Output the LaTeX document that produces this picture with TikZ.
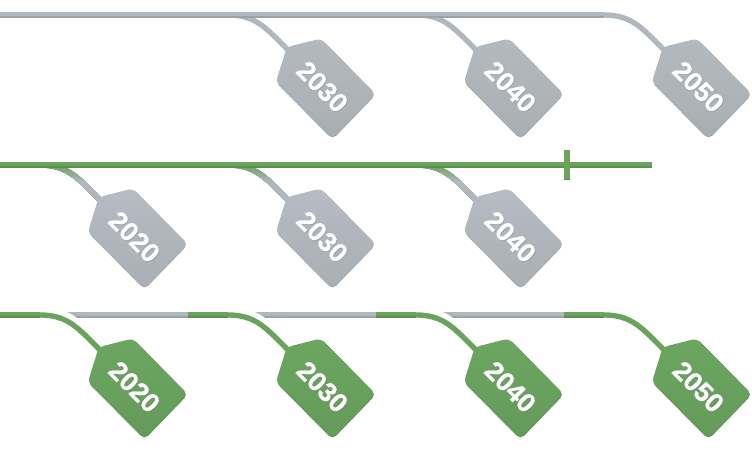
\documentclass[tikz,border=0pt]{standalone}
\usepackage{fontspec}
\usetikzlibrary{calc}
\setmainfont{Liberation Sans}
\newfontfamily\tagfont[BoldFeatures={FakeBold=0.8}]{Liberation Sans}
\definecolor{grayA}{HTML}{B6BBC5}
\definecolor{grayB}{HTML}{AAAFB3}
\definecolor{grayC}{HTML}{B3B9BE}
\definecolor{grayD}{HTML}{A9AFB1}
\definecolor{grayLine}{HTML}{B0B7BE}
\definecolor{grayEdge}{HTML}{9CA2A8}
\definecolor{greenA}{HTML}{6CA660}
\definecolor{greenB}{HTML}{649A5A}
\definecolor{greenLine}{HTML}{6AA35C}
\definecolor{greenEdge}{HTML}{5C8F51}
\tikzset{
  x=0.75pt,y=-0.75pt,
  tagtext/.style={font=\tagfont\bfseries\fontsize{20pt}{20pt}\selectfont,text=white,rotate=-45,inner sep=0pt},
  tagshadow/.style={font=\tagfont\bfseries\fontsize{20pt}{20pt}\selectfont,text=black!45,opacity=.5,rotate=-45,inner sep=0pt},
  halo/.style={draw=white,line width=5.5pt,line cap=butt},
  widehalo/.style={draw=white,line width=12pt,line cap=butt},
  mainline/.style={line width=4.2pt,line cap=butt},
  edgeline/.style={line width=1.2pt,line cap=butt},
  stringline/.style={line width=4pt,line cap=butt},
}
% \placetag{name}{dx}{dy}: the anchor points of one tag and its string
\newcommand{\placetag}[3]{%
  \coordinate (#1-s) at (40+#2,315+#3);
  \coordinate (#1-a) at (68+#2,315+#3);
  \coordinate (#1-b) at (78+#2,328+#3);
  \coordinate (#1-e) at (101+#2,351+#3);
}
\newcommand{\stringpath}[1]{(#1-s) .. controls (#1-a) and (#1-b) .. (#1-e)}
% \drawtag{name}{dx}{dy}{label}{top}{bottom}{edge}
\newcommand{\drawtag}[7]{%
  \begin{scope}[shift={(#2,#3)}]
    \path[fill=#7,rounded corners=4pt] (99,347.5) -- (133,339) -- (188,394.5) -- (144.5,439.5) -- (88,382.5) -- cycle;
    \path[top color=#5,bottom color=#6,rounded corners=4pt] (99,347) -- (133,338.5) -- (187.5,394) -- (144.5,438.5) -- (88,382) -- cycle;
    \node[tagshadow] at (135.1,387.6) {#4};
    \node[tagtext] (#1) at (134.4,386.9) {#4};
  \end{scope}}
% string fading from green (top) to gray (below)
\newcommand{\fadestring}[2]{%
  \foreach \i in {0,...,16}{%
    \pgfmathsetmacro{\mixv}{100-\i*100/16}
    \begin{scope}
      \clip (#2-10,165+\i) rectangle (#2+120,200);
      \draw[stringline,draw={greenLine!\mixv!grayLine}] \stringpath{#1};
    \end{scope}}%
}
\begin{document}
\begin{tikzpicture}
\useasboundingbox (0,0) rectangle (752,450);
\fill[white] (0,0) rectangle (752,450);
% ---- row 1
\placetag{aa}{188}{-300}
\placetag{ab}{376}{-300}
\placetag{ac}{564}{-300}
\coordinate (l1) at (0,15);
\foreach \n in {aa,ab}{\draw[halo] \stringpath{\n};\draw[stringline,grayLine] \stringpath{\n};}
\draw[stringline,grayLine] \stringpath{ac};
\draw[mainline,grayLine] (l1) -- (ac-s);
\draw[edgeline,grayEdge] ($(l1)+(0,2)$) -- ($(ac-s)+(0,2)$);
\drawtag{t2030a}{188}{-300}{2030}{grayC}{grayD}{grayEdge}
\drawtag{t2040a}{376}{-300}{2040}{grayC}{grayD}{grayEdge}
\drawtag{t2050a}{564}{-300}{2050}{grayC}{grayD}{grayEdge}
% ---- row 2
\placetag{ba}{0}{-150}
\placetag{bb}{188}{-150}
\placetag{bc}{376}{-150}
\coordinate (l2) at (0,165);
\coordinate (l2e) at (652,165);
\coordinate (tickT) at (567,150);
\coordinate (tickB) at (567,180);
\foreach \n/\d in {ba/0,bb/188,bc/376}{%
  \draw[halo] \stringpath{\n};
  \draw[stringline,greenLine] \stringpath{\n};
  \fadestring{\n}{\d}}
\draw[mainline,greenLine] (l2) -- (l2e);
\draw[edgeline,greenEdge] ($(l2)+(0,2)$) -- ($(l2e)+(0,2)$);
\draw[line width=4.5pt,greenLine] (tickT) -- (tickB);
\draw[line width=4.5pt,greenEdge] ($(tickB)+(0,-1.5)$) -- (tickB);
\drawtag{t2020b}{0}{-150}{2020}{grayA}{grayB}{grayEdge}
\drawtag{t2030b}{188}{-150}{2030}{grayA}{grayB}{grayEdge}
\drawtag{t2040b}{376}{-150}{2040}{grayA}{grayB}{grayEdge}
% ---- row 3
\placetag{ca}{0}{0}
\placetag{cb}{188}{0}
\placetag{cc}{376}{0}
\placetag{cd}{564}{0}
\coordinate (c0) at (0,315);
\coordinate (c1) at (188,315);
\coordinate (c2) at (376,315);
\coordinate (c3) at (564,315);
\foreach \p/\q in {ca-s/c1,cb-s/c2,cc-s/c3}{%
  \draw[mainline,grayLine] (\p) -- (\q);
  \draw[edgeline,grayEdge] ($(\p)+(0,2)$) -- ($(\q)+(0,2)$);}
\foreach \p/\n in {c0/ca,c1/cb,c2/cc,c3/cd}{%
  \draw[widehalo] \stringpath{\n};
  \draw[stringline,greenLine] \stringpath{\n};
  \draw[mainline,greenLine] (\p) -- (\n-s);
  \draw[edgeline,greenEdge] ($(\p)+(0,2)$) -- ($(\n-s)+(0,2)$);}
\drawtag{t2020c}{0}{0}{2020}{greenA}{greenB}{greenEdge}
\drawtag{t2030c}{188}{0}{2030}{greenA}{greenB}{greenEdge}
\drawtag{t2040c}{376}{0}{2040}{greenA}{greenB}{greenEdge}
\drawtag{t2050c}{564}{0}{2050}{greenA}{greenB}{greenEdge}
\end{tikzpicture}
\end{document}
